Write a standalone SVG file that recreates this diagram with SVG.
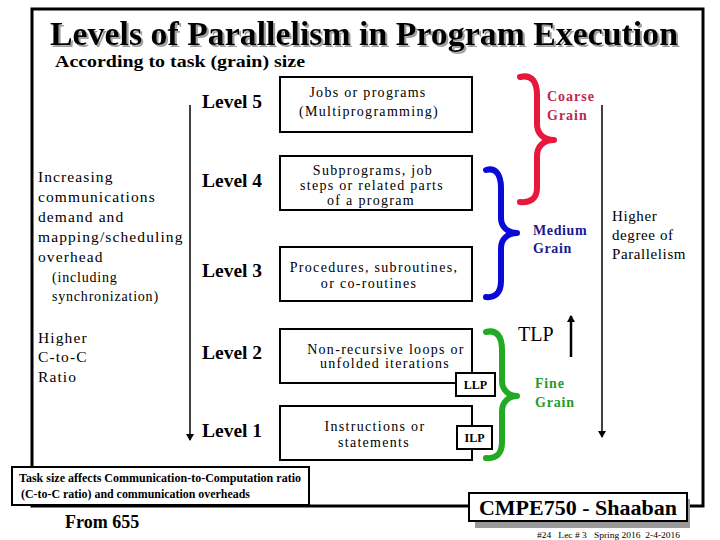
<svg xmlns="http://www.w3.org/2000/svg" width="720" height="540" viewBox="0 0 720 540">
<defs>
<marker id="ah" markerWidth="8" markerHeight="8" refX="6" refY="4" orient="auto" markerUnits="userSpaceOnUse">
<path d="M0,0 L7,4 L0,8 Z" fill="#000"/>
</marker>
<filter id="shadow" x="-5%" y="-20%" width="110%" height="150%">
<feDropShadow dx="2" dy="2" stdDeviation="0.5" flood-color="#888" flood-opacity="0.8"/>
</filter>
<style>
text{font-family:'Liberation Serif','DejaVu Serif','Times New Roman',serif;fill:#000}
.b{font-weight:bold}
.lvl{font-weight:bold;font-size:19.5px}
.lt{font-size:15.5px;letter-spacing:1.1px}
.lts{font-size:14px;letter-spacing:0.8px}
.bx{font-size:14px;letter-spacing:1.3px;text-anchor:middle}
.box{fill:#fff;stroke:#000;stroke-width:2}
.br{fill:none;stroke-width:6;stroke-linecap:round;stroke-linejoin:round}
.ln{stroke:#000;stroke-width:1.5;fill:none}
.cg{fill:#c0284c;font-weight:bold;font-size:14px;letter-spacing:1px}
.mg{fill:#1a1a90;font-weight:bold;font-size:14px;letter-spacing:0.6px}
.fg{fill:#2a9a2a;font-weight:bold;font-size:14px;letter-spacing:0.8px}
.hp{font-size:15px;letter-spacing:0.6px}
</style>
</defs>
<rect width="720" height="540" fill="#fff"/>
<rect x="32" y="9" width="671" height="497" fill="none" stroke="#000" stroke-width="3"/>

<g id="title">
<text x="50" y="45" class="b" font-size="34" filter="url(#shadow)" textLength="628" lengthAdjust="spacingAndGlyphs">Levels of Parallelism in Program Execution</text>
<text x="55" y="67" class="b" font-size="17" textLength="250" lengthAdjust="spacingAndGlyphs">According to task (grain) size</text>
</g>

<g id="connectors">
<line x1="190" y1="105" x2="190" y2="440" class="ln" marker-end="url(#ah)"/>
<line x1="602" y1="105" x2="602" y2="437" class="ln" marker-end="url(#ah)"/>
<line x1="571" y1="357" x2="571" y2="316" stroke="#000" stroke-width="2.5" marker-end="url(#ah)"/>
</g>

<g id="levels">
<text x="202" y="108" class="lvl">Level 5</text>
<text x="202" y="187" class="lvl">Level 4</text>
<text x="202" y="277" class="lvl">Level 3</text>
<text x="202" y="359" class="lvl">Level 2</text>
<text x="202" y="437" class="lvl">Level 1</text>
</g>

<g id="left-text">
<text x="38" y="182" class="lt">Increasing</text>
<text x="38" y="202" class="lt">communications</text>
<text x="38" y="222" class="lt">demand and</text>
<text x="38" y="242" class="lt">mapping/scheduling</text>
<text x="38" y="262" class="lt">overhead</text>
<text x="52" y="282" class="lts">(including</text>
<text x="52" y="301" class="lts">synchronization)</text>
<text x="38" y="343" class="lt">Higher</text>
<text x="38" y="362" class="lt">C-to-C</text>
<text x="38" y="382" class="lt">Ratio</text>
</g>

<g id="box5">
<rect x="280" y="77" width="192" height="55" class="box"/>
<text x="368" y="97" class="bx">Jobs or programs</text>
<text x="369" y="116" class="bx">(Multiprogramming)</text>
</g>
<g id="box4">
<rect x="280" y="156" width="192" height="54" class="box"/>
<text x="373" y="175" class="bx">Subprograms, job</text>
<text x="372" y="190" class="bx">steps or related parts</text>
<text x="371" y="205" class="bx">of a program</text>
</g>
<g id="box3">
<rect x="280" y="247" width="192" height="54" class="box"/>
<text x="374" y="272" class="bx">Procedures, subroutines,</text>
<text x="369" y="288" class="bx">or co-routines</text>
</g>
<g id="box2">
<rect x="280" y="329" width="192" height="54" class="box"/>
<text x="386" y="354" class="bx">Non-recursive loops or</text>
<text x="385" y="368" class="bx">unfolded iterations</text>
</g>
<g id="box1">
<rect x="280" y="406" width="192" height="54" class="box"/>
<text x="375" y="431" class="bx">Instructions or</text>
<text x="374" y="447" class="bx">statements</text>
</g>
<g id="llp">
<rect x="456" y="373" width="39" height="23" class="box"/>
<text x="475.5" y="389" class="b" font-size="12" text-anchor="middle">LLP</text>
</g>
<g id="ilp">
<rect x="457" y="426" width="35" height="23" class="box"/>
<text x="474.5" y="442" class="b" font-size="12" text-anchor="middle">ILP</text>
</g>

<g id="braces">
<path class="br" stroke="#e8173c" d="M520,77 C532,74 537,82 537,95 L537,124 C537,134 544,140 554,140 C544,140 537,146 537,156 L537,188 C537,198 531,203 520,202"/>
<path class="br" stroke="#0a0ad8" d="M486,170 C496,167 501,175 501,188 L501,218 C501,227 508,233 517,233 C508,233 501,239 501,248 L501,281 C501,293 495,298 486,297"/>
<path class="br" stroke="#22aa22" d="M486,332 C497,329 502,337 502,350 L502,381 C502,390 509,396 517,396 C509,396 502,402 502,411 L502,442 C502,454 496,459 486,458"/>
</g>

<g id="grain-labels">
<text x="547" y="101" class="cg">Coarse</text>
<text x="547" y="120" class="cg">Grain</text>
<text x="533" y="235" class="mg">Medium</text>
<text x="533" y="253" class="mg">Grain</text>
<text x="535" y="388" class="fg">Fine</text>
<text x="535" y="407" class="fg">Grain</text>
</g>

<g id="parallelism">
<text x="612" y="221" class="hp">Higher</text>
<text x="612" y="240" class="hp">degree of</text>
<text x="612" y="259" class="hp">Parallelism</text>
<text x="518" y="341" font-size="20">TLP</text>
</g>

<g id="note">
<rect x="12" y="467" width="297" height="38" fill="#fff" stroke="#000" stroke-width="2"/>
<text x="19" y="482" class="b" font-size="11.5" textLength="282" lengthAdjust="spacingAndGlyphs">Task size affects Communication-to-Computation ratio</text>
<text x="21" y="498" class="b" font-size="11.5" textLength="229" lengthAdjust="spacingAndGlyphs">(C-to-C ratio) and communication overheads</text>
</g>
<text x="65" y="528" class="b" font-size="18">From 655</text>

<g id="footer">
<rect x="475" y="499" width="215" height="29" fill="#999"/>
<rect x="469" y="493" width="218" height="28" fill="#fff" stroke="#000" stroke-width="2"/>
<text x="578" y="515" class="b" font-size="22" text-anchor="middle">CMPE750 - Shaaban</text>
<text x="537" y="538" font-size="9" style="white-space:pre" textLength="143" lengthAdjust="spacingAndGlyphs">#24   Lec # 3   Spring 2016  2-4-2016</text>
</g>
</svg>
